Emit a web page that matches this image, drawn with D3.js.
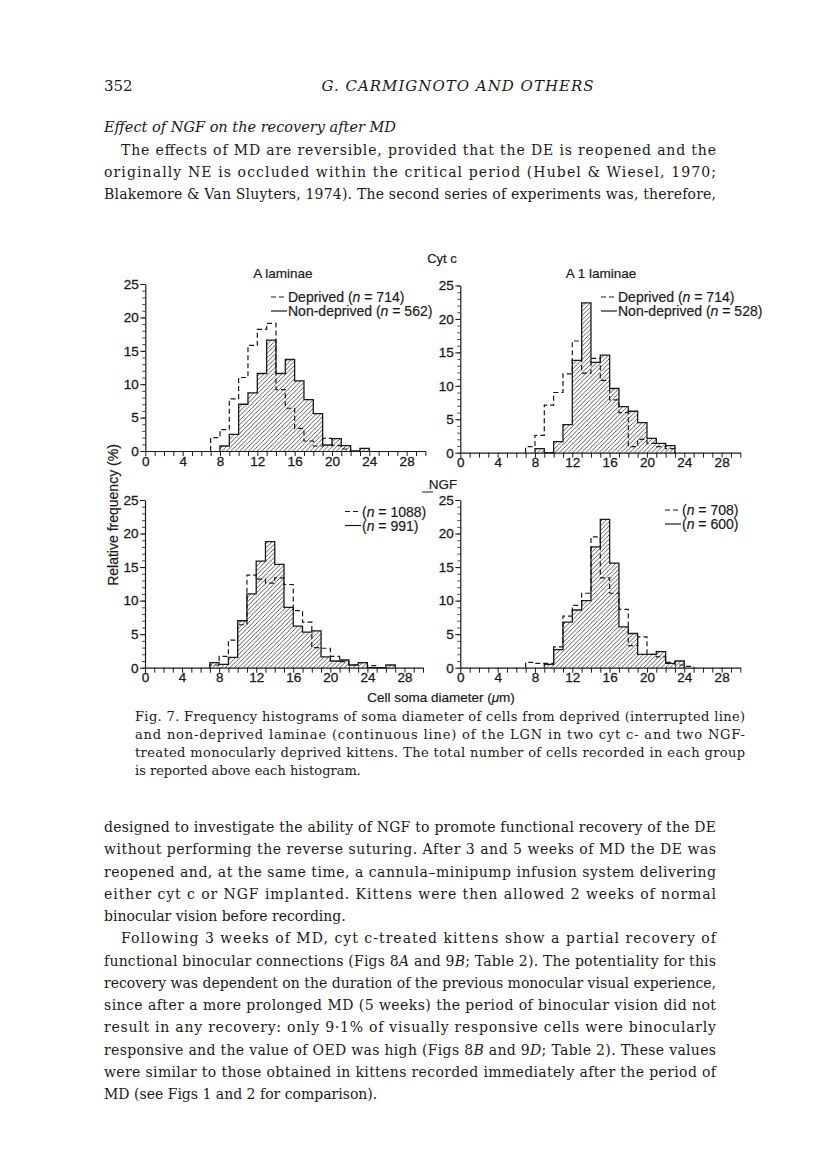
<!DOCTYPE html>
<html><head><meta charset="utf-8">
<script src="https://cdn.jsdelivr.net/npm/d3@7"></script>
<style>
html,body{margin:0;padding:0;background:#fff;}
svg{display:block;}
</style></head>
<body>
<script>
// ---------------- DATA ----------------
const binStartDepA = 7;
const deprivedA = [2.0, 3.2, 7.8, 11.0, 15.8, 18.2, 19.1, 9.2, 6.4, 3.4, 1.5, 0.75, 1.9, 0.8, 0.3];
const binStartNonA = 8;
const nonDeprivedA = [0.75, 2.5, 7.0, 8.7, 11.6, 16.6, 11.6, 13.7, 10.5, 7.7, 5.6, 0.9, 1.85, 0.8, 0, 0.4];

const binStartDepA1 = 7;
const deprivedA1 = [0.9, 2.6, 7.1, 9.0, 11.8, 16.7, 11.9, 14.1, 10.8, 7.9, 6.0, 0.9, 2.0, 1.4, 0.9, 0.6];
const binStartNonA1 = 8;
const nonDeprivedA1 = [0.6, 0, 1.65, 4.2, 13.8, 22.4, 13.5, 14.6, 9.6, 6.9, 6.2, 4.5, 2.15, 1.4, 1.05];

const binStartDepNgfA = 7;
const deprivedNgfA = [0.4, 1.7, 4.1, 6.4, 13.8, 13.2, 12.6, 13.4, 12.4, 8.5, 6.8, 3.0, 2.9, 1.7, 0.9, 0.4, 0.75, 0.3];
const binStartNonNgfA = 7;
const nonDeprivedNgfA = [0.75, 0.5, 1.55, 7.0, 11.0, 15.9, 18.8, 15.4, 9.0, 6.2, 5.3, 5.5, 1.6, 1.0, 1.15, 0.4, 0.75, 0, 0, 0.4];

const binStartDepNgfA1 = 7;
const deprivedNgfA1 = [0.8, 0.65, 0.65, 3.1, 7.7, 9.3, 11.1, 19.5, 13.4, 11.1, 8.7, 3.3, 4.6, 2.0, 1.6, 0.8, 0.4, 0.2];
const binStartNonNgfA1 = 9;
const nonDeprivedNgfA1 = [0.5, 2.7, 6.8, 8.6, 10.0, 18.0, 22.1, 15.6, 6.1, 5.1, 2.0, 2.0, 2.4, 0.65, 1.0];

const xTickLabels = [0, 4, 8, 12, 16, 20, 24, 28];
const yTickLabels = [0, 5, 10, 15, 20, 25];

const legendTopLeft = [["Deprived (", "n", " = 714)"], ["Non-deprived (", "n", " = 562)"]];
const legendTopRight = [["Deprived (", "n", " = 714)"], ["Non-deprived (", "n", " = 528)"]];
const legendBottomLeft = [["(", "n", " = 1088)"], ["(", "n", " = 991)"]];
const legendBottomRight = [["(", "n", " = 708)"], ["(", "n", " = 600)"]];

// ---------------- LAYOUT ----------------
const W = 816, H = 1169;
const svg = d3.select("body").append("svg").attr("width", W).attr("height", H)
  .attr("viewBox", `0 0 ${W} ${H}`);
svg.append("rect").attr("width", W).attr("height", H).attr("fill", "#fff");

const defs = svg.append("defs");
const pat = defs.append("pattern").attr("id", "hatch").attr("patternUnits", "userSpaceOnUse")
  .attr("width", 4.4).attr("height", 4.4);
pat.append("path").attr("d", "M-1.1,1.1 l2.2,-2.2 M0,4.4 l4.4,-4.4 M3.3,5.5 l2.2,-2.2")
  .attr("stroke", "#222").attr("stroke-width", 0.75);

const serif = "'DejaVu Serif', serif";
const sans = "'Liberation Sans', Arial, sans-serif";
const ink = "#1a1a1a";

// --- text helper (optionally justified via textLength) ---
function textLine(parts, x, y, opts = {}) {
  const t = svg.append("text").attr("x", x).attr("y", y)
    .attr("font-family", opts.family || serif).attr("font-size", opts.size || 14)
    .attr("fill", ink);
  if (opts.italic) t.attr("font-style", "italic");
  if (opts.len) t.attr("textLength", opts.len).attr("lengthAdjust", "spacing");
  if (opts.anchor) t.attr("text-anchor", opts.anchor);
  if (opts.ls) t.attr("letter-spacing", opts.ls);
  if (opts.bold) t.attr("stroke", ink).attr("stroke-width", opts.bold);
  (Array.isArray(parts) ? parts : [parts]).forEach(p => {
    if (typeof p === "string") t.append("tspan").text(p);
    else t.append("tspan").attr("font-style", "italic").text(p.i);
  });
  return t;
}

// header
textLine("352", 104, 91, {size: 15});
textLine("G. CARMIGNOTO AND OTHERS", 458, 91, {size: 15, italic: true, anchor: "middle", ls: 1.0});

// top body text
const R = 716;
textLine("Effect of NGF on the recovery after MD", 104, 132, {italic: true, size: 14.5});
textLine("The effects of MD are reversible, provided that the DE is reopened and the", 121, 155, {len: R - 121});
textLine("originally NE is occluded within the critical period (Hubel & Wiesel, 1970;", 104, 177, {len: R - 104});
textLine("Blakemore & Van Sluyters, 1974). The second series of experiments was, therefore,", 104, 199, {len: R - 104});

// caption
const capL = 135, capR = 745;
textLine("Fig. 7. Frequency histograms of soma diameter of cells from deprived (interrupted line)", capL, 720.5, {size: 13, len: capR - capL});
textLine("and non-deprived laminae (continuous line) of the LGN in two cyt c- and two NGF-", capL, 738.5, {size: 13, len: capR - capL});
textLine("treated monocularly deprived kittens. The total number of cells recorded in each group", capL, 756.5, {size: 13, len: capR - capL});
textLine("is reported above each histogram.", capL, 774.5, {size: 13});

// bottom body text
const bodyLines = [
  {p: "designed to investigate the ability of NGF to promote functional recovery of the DE", j: true},
  {p: "without performing the reverse suturing. After 3 and 5 weeks of MD the DE was", j: true},
  {p: "reopened and, at the same time, a cannula\u2013minipump infusion system delivering", j: true},
  {p: "either cyt c or NGF implanted. Kittens were then allowed 2 weeks of normal", j: true},
  {p: "binocular vision before recording.", j: false},
  {p: "Following 3 weeks of MD, cyt c-treated kittens show a partial recovery of", j: true, indent: true},
  {p: ["functional binocular connections (Figs 8", {i: "A"}, " and 9", {i: "B"}, "; Table 2). The potentiality for this"], j: true},
  {p: "recovery was dependent on the duration of the previous monocular visual experience,", j: true},
  {p: "since after a more prolonged MD (5 weeks) the period of binocular vision did not", j: true},
  {p: "result in any recovery: only 9\u00b71% of visually responsive cells were binocularly", j: true},
  {p: ["responsive and the value of OED was high (Figs 8", {i: "B"}, " and 9", {i: "D"}, "; Table 2). These values"], j: true},
  {p: "were similar to those obtained in kittens recorded immediately after the period of", j: true},
  {p: "MD (see Figs 1 and 2 for comparison).", j: false}
];
bodyLines.forEach((l, i) => {
  const x = l.indent ? 121 : 104;
  textLine(l.p, x, 832 + 22.25 * i, l.j ? {len: R - x} : {});
});

// ---------------- CHART ----------------
const panels = [
  {x0: 145.3, x1: 425.3, y0: 451, y1: 284, dep: deprivedA, depStart: binStartDepA, non: nonDeprivedA, nonStart: binStartNonA,
   legend: legendTopLeft, lx: 271, ly: 297},
  {x0: 460.3, x1: 740.3, y0: 452.7, y1: 285.5, dep: deprivedA1, depStart: binStartDepA1, non: nonDeprivedA1, nonStart: binStartNonA1,
   legend: legendTopRight, lx: 601, ly: 297},
  {x0: 145, x1: 423, y0: 667.7, y1: 500, dep: deprivedNgfA, depStart: binStartDepNgfA, non: nonDeprivedNgfA, nonStart: binStartNonNgfA,
   legend: legendBottomLeft, lx: 345, ly: 511.5},
  {x0: 460.3, x1: 740.3, y0: 667.7, y1: 500, dep: deprivedNgfA1, depStart: binStartDepNgfA1, non: nonDeprivedNgfA1, nonStart: binStartNonNgfA1,
   legend: legendBottomRight, lx: 665, ly: 510}
];

function stepPoints(vals, start, x, y) {
  const pts = [[x(start), y(0)]];
  vals.forEach((v, i) => {
    pts.push([x(start + i), y(v)]);
    pts.push([x(start + i + 1), y(v)]);
  });
  pts.push([x(start + vals.length), y(0)]);
  return pts;
}

const tickFont = 13.5, tickStroke = 0.3;

panels.forEach(p => {
  const x = d3.scaleLinear().domain([0, 30]).range([p.x0, p.x1]);
  const y = d3.scaleLinear().domain([0, 25]).range([p.y0, p.y1]);
  const g = svg.append("g");

  // hatched non-deprived histogram
  const nonPts = stepPoints(p.non, p.nonStart, x, y);
  g.append("path").attr("d", d3.line()(nonPts) + "Z").attr("fill", "url(#hatch)").attr("stroke", "none");
  g.append("path").attr("d", d3.line()(nonPts)).attr("fill", "none").attr("stroke", ink).attr("stroke-width", 1.3);
  // dashed deprived histogram
  const depPts = stepPoints(p.dep, p.depStart, x, y);
  g.append("path").attr("d", d3.line()(depPts)).attr("fill", "none").attr("stroke", ink)
    .attr("stroke-width", 1.2).attr("stroke-dasharray", "5,3");

  // x axis
  const xa = g.append("g").attr("transform", `translate(0,${p.y0})`)
    .call(d3.axisBottom(x).tickValues(d3.range(0, 31)).tickSize(5).tickSizeOuter(0)
      .tickFormat(d => xTickLabels.includes(d) ? d : ""));
  xa.select(".domain").attr("stroke", ink).attr("stroke-width", 1.2);
  xa.selectAll(".tick line").attr("stroke", ink).attr("stroke-width", 1);
  xa.selectAll(".tick text").attr("font-family", sans).attr("font-size", tickFont).attr("fill", ink)
    .attr("stroke", ink).attr("stroke-width", tickStroke).attr("dy", "0.8em").attr("y", 4);

  // y axis minor
  const ya = g.append("g").attr("transform", `translate(${p.x0},0)`)
    .call(d3.axisLeft(y).tickValues(d3.range(0, 26)).tickSize(3).tickSizeOuter(0).tickFormat(""));
  ya.select(".domain").attr("stroke", ink).attr("stroke-width", 1.2);
  ya.selectAll(".tick line").attr("stroke", ink).attr("stroke-width", 0.8);
  const yb = g.append("g").attr("transform", `translate(${p.x0},0)`)
    .call(d3.axisLeft(y).tickValues(yTickLabels).tickSize(5).tickSizeOuter(0).tickPadding(1.5));
  yb.select(".domain").remove();
  yb.selectAll(".tick line").attr("stroke", ink).attr("stroke-width", 1);
  yb.selectAll(".tick text").attr("font-family", sans).attr("font-size", tickFont).attr("fill", ink)
    .attr("stroke", ink).attr("stroke-width", tickStroke);

  // legend
  p.legend.forEach((row, i) => {
    const ly = p.ly + i * 14;
    g.append("line").attr("x1", p.lx).attr("x2", p.lx + 16).attr("y1", ly).attr("y2", ly)
      .attr("stroke", ink).attr("stroke-width", 1.2).attr("stroke-dasharray", i === 0 ? "5,3" : null);
    const t = g.append("text").attr("x", p.lx + 17).attr("y", ly + 5)
      .attr("font-family", sans).attr("font-size", 14).attr("fill", ink)
      .attr("stroke", ink).attr("stroke-width", 0.2);
    t.append("tspan").text(row[0]);
    t.append("tspan").attr("font-style", "italic").text(row[1]);
    t.append("tspan").text(row[2]);
  });
});

// chart labels
textLine("Cyt c", 442, 263, {family: sans, size: 13, anchor: "middle", bold: 0.2});
textLine("A laminae", 283, 277.5, {family: sans, size: 13.5, anchor: "middle", bold: 0.2});
textLine("A 1 laminae", 601, 277.5, {family: sans, size: 13.5, anchor: "middle", bold: 0.2});
textLine("NGF", 443, 488.5, {family: sans, size: 13.5, anchor: "middle", bold: 0.2});
svg.append("line").attr("x1", 422).attr("x2", 433).attr("y1", 492).attr("y2", 492).attr("stroke", ink).attr("stroke-width", 1);
textLine(["Cell soma diameter (", {i: "\u03bc"}, "m)"], 441, 701.5, {family: sans, size: 13.5, anchor: "middle", bold: 0.2});
svg.append("text").attr("transform", "translate(118,515) rotate(-90)").attr("text-anchor", "middle")
  .attr("font-family", sans).attr("font-size", 14).attr("fill", ink)
  .attr("stroke", ink).attr("stroke-width", 0.2).text("Relative frequency (%)");
</script>
</body></html>
